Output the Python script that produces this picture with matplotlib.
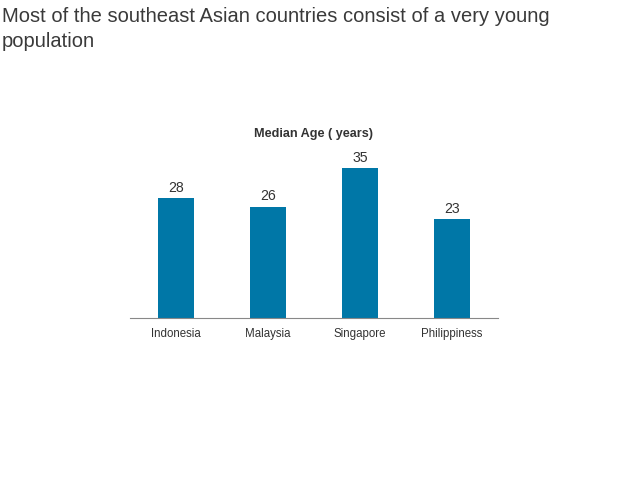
import matplotlib.pyplot as plt

plt.rcParams['font.family'] = ['Liberation Sans', 'DejaVu Sans']

countries = ["Indonesia", "Malaysia", "Singapore", "Philippiness"]
median_age = [28, 26, 35, 23]

bar_color = "#0077a7"
text_color = "#333333"

fig = plt.figure(figsize=(6.38, 4.93), dpi=100)
ax = fig.add_axes([130 / 638, 1 - 318 / 493, 368 / 638, 168 / 493])

x = range(len(countries))
bars = ax.bar(x, median_age, width=0.4, color=bar_color)
for b, v in zip(bars, median_age):
    ax.text(b.get_x() + b.get_width() / 2, v + 0.8, str(v), ha="center", va="bottom",
            fontsize=10.2, color=text_color)

ax.set_xlim(-0.5, len(countries) - 0.5)
ax.set_ylim(0, 39.2)
ax.set_xticks(list(x))
ax.set_xticklabels(countries, fontsize=8.3, color=text_color)
ax.tick_params(axis="x", length=0, pad=7)
ax.set_yticks([])
for s in ["top", "right", "left"]:
    ax.spines[s].set_visible(False)
ax.spines["bottom"].set_color("#888888")
ax.spines["bottom"].set_linewidth(0.8)

fig.text(314 / 638, 1 - 134 / 493, "Median Age ( years)", ha="center", va="center",
         fontsize=9.1, fontweight="bold", color=text_color)

fig.text(2 / 638, 1 - 7 / 493, "Most of the southeast Asian countries consist of a very young\npopulation",
         ha="left", va="top", fontsize=14.5, color="#3a3a3a", linespacing=1.38)

fig.savefig("out.png", dpi=100)
